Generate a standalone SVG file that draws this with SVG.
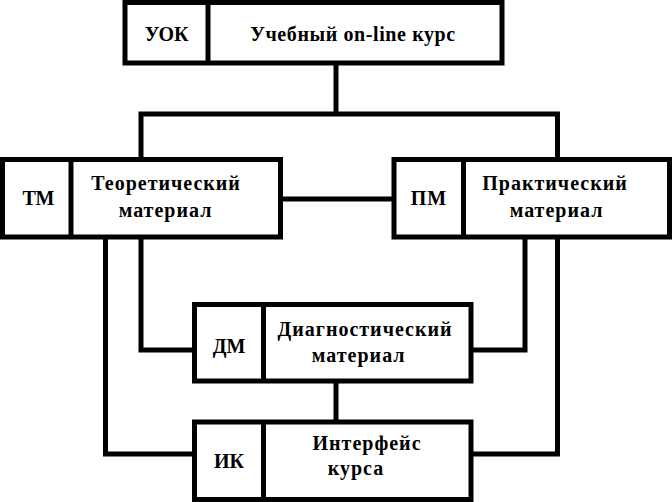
<svg xmlns="http://www.w3.org/2000/svg" width="672" height="502" viewBox="0 0 672 502">
<style>
.box{fill:#fff;stroke:#000;stroke-width:5}
.div{stroke:#000;stroke-width:5}
.conn{fill:none;stroke:#000;stroke-width:5}
</style>
<rect width="672" height="502" fill="#fff"/>
<g id="connectors">
<path class="conn" d="M336,63 V114"/>
<path class="conn" d="M141,159.5 V114 H557.5 V159.5"/>
<path class="conn" d="M280.5,199 H394"/>
<path class="conn" d="M141,237 V350 H194.5"/>
<path class="conn" d="M105.5,237 V454 H194.5"/>
<path class="conn" d="M525,237 V350 H471"/>
<path class="conn" d="M557.5,237 V454 H471"/>
<path class="conn" d="M336,381 V422"/>
</g>
<g id="uok">
<rect class="box" x="125" y="2.5" width="377" height="60.5"/>
<line class="div" x1="208" y1="2.5" x2="208" y2="63"/>
<text x="166.7" y="41" font-family="Liberation Serif, serif" font-weight="bold" font-size="20" text-anchor="middle">УОК</text>
<text x="353" y="41" font-family="Liberation Serif, serif" font-weight="bold" font-size="20" text-anchor="middle" letter-spacing="0.6">Учебный on-line курс</text>
</g>
<g id="tm">
<rect class="box" x="2.5" y="159.5" width="278" height="77.5"/>
<line class="div" x1="71" y1="159.5" x2="71" y2="237"/>
<text x="38.5" y="205" font-family="Liberation Serif, serif" font-weight="bold" font-size="20" text-anchor="middle">ТМ</text>
<text x="166" y="190" font-family="Liberation Serif, serif" font-weight="bold" font-size="20" text-anchor="middle" letter-spacing="1">Теоретический</text>
<text x="165.5" y="216.5" font-family="Liberation Serif, serif" font-weight="bold" font-size="20" text-anchor="middle" letter-spacing="1">материал</text>
</g>
<g id="pm">
<rect class="box" x="394" y="159.5" width="275.5" height="77.5"/>
<line class="div" x1="463.5" y1="159.5" x2="463.5" y2="237"/>
<text x="429" y="205" font-family="Liberation Serif, serif" font-weight="bold" font-size="20" text-anchor="middle" letter-spacing="1">ПМ</text>
<text x="555" y="190" font-family="Liberation Serif, serif" font-weight="bold" font-size="20" text-anchor="middle" letter-spacing="1">Практический</text>
<text x="556.5" y="216.5" font-family="Liberation Serif, serif" font-weight="bold" font-size="20" text-anchor="middle" letter-spacing="1">материал</text>
</g>
<g id="dm">
<rect class="box" x="194.5" y="304.5" width="276.5" height="76.5"/>
<line class="div" x1="263.5" y1="304.5" x2="263.5" y2="381"/>
<text x="229" y="352.5" font-family="Liberation Serif, serif" font-weight="bold" font-size="20" text-anchor="middle">ДМ</text>
<text x="365" y="336" font-family="Liberation Serif, serif" font-weight="bold" font-size="20" text-anchor="middle" letter-spacing="1">Диагностический</text>
<text x="358.7" y="362" font-family="Liberation Serif, serif" font-weight="bold" font-size="20" text-anchor="middle" letter-spacing="1">материал</text>
</g>
<g id="ik">
<rect class="box" x="194.5" y="422" width="276.5" height="77.5"/>
<line class="div" x1="263.5" y1="422" x2="263.5" y2="499.5"/>
<text x="229" y="468" font-family="Liberation Serif, serif" font-weight="bold" font-size="20" text-anchor="middle">ИК</text>
<text x="367" y="450" font-family="Liberation Serif, serif" font-weight="bold" font-size="20" text-anchor="middle" letter-spacing="1">Интерфейс</text>
<text x="356" y="475" font-family="Liberation Serif, serif" font-weight="bold" font-size="20" text-anchor="middle" letter-spacing="1">курса</text>
</g>
</svg>
